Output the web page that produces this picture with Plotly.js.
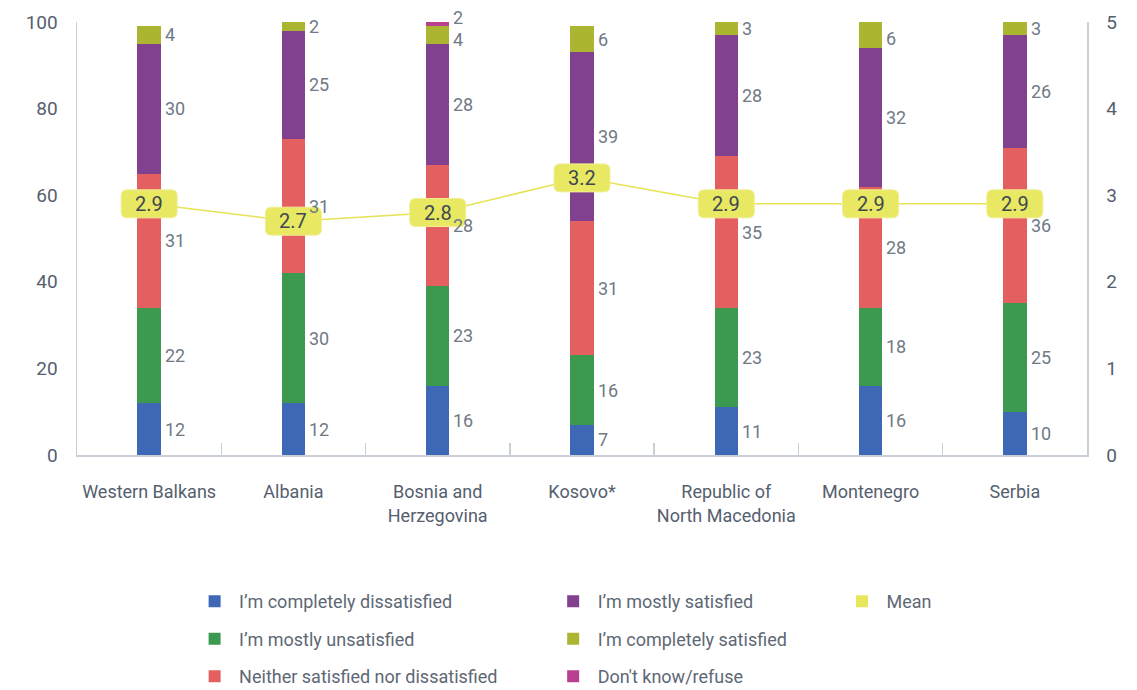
<!DOCTYPE html>
<html>
<head>
<meta charset="utf-8">
<script src="https://cdn.plot.ly/plotly-3.0.1.min.js"></script>
<style>
  html, body { margin: 0; padding: 0; background: #fff; }
  #chart { width: 1137px; height: 690px; }
</style>
</head>
<body>
<div id="chart"></div>
<script>
const categories = ['Western Balkans', 'Albania', 'Bosnia and<br>Herzegovina', 'Kosovo*', 'Republic of<br>North Macedonia', 'Montenegro', 'Serbia'];
const completelyDissatisfied = [12, 12, 16, 7, 11, 16, 10];
const mostlyUnsatisfied = [22, 30, 23, 16, 23, 18, 25];
const neitherNor = [31, 31, 28, 31, 35, 28, 36];
const mostlySatisfied = [30, 25, 28, 39, 28, 32, 26];
const completelySatisfied = [4, 2, 4, 6, 3, 6, 3];
const dontKnow = [null, null, 2, null, null, 1, null];
const meanValues = [2.9, 2.7, 2.8, 3.2, 2.9, 2.9, 2.9];
const meanLabels = ['2.9', '2.7', '2.8', '3.2', '2.9', '2.9', '2.9'];

const seriesNames = ['I\u2019m completely dissatisfied', 'I\u2019m mostly unsatisfied', 'Neither satisfied nor dissatisfied', 'I\u2019m mostly satisfied', 'I\u2019m completely satisfied', "Don't know/refuse"];
const seriesData = [completelyDissatisfied, mostlyUnsatisfied, neitherNor, mostlySatisfied, completelySatisfied, dontKnow];
const seriesColors = ['#3e68b5', '#3b9a50', '#e46060', '#82418e', '#abb531', '#b8408f'];
const seriesLegend = ['legend', 'legend', 'legend', 'legend2', 'legend2', 'legend2'];

const FONT = 'Roboto, "Open Sans", sans-serif';
const xIdx = categories.map((_, i) => i);

const traces = seriesData.map((vals, s) => ({
  type: 'bar',
  name: seriesNames[s],
  x: categories,
  y: vals,
  width: 0.162,
  marker: { color: seriesColors[s], line: { width: 0 } },
  legend: seriesLegend[s],
  legendgroup: 'g' + s,
  hoverinfo: 'skip'
}));

// Mean line on secondary axis
traces.push({
  type: 'scatter',
  mode: 'lines',
  x: categories,
  y: meanValues,
  yaxis: 'y2',
  line: { color: '#e6e455', width: 1.5 },
  showlegend: false,
  hoverinfo: 'skip'
});
// Mean legend entry
traces.push({
  type: 'bar',
  name: 'Mean',
  x: [categories[0]],
  y: [null],
  marker: { color: '#e8e65c' },
  legend: 'legend3',
  legendgroup: 'gm',
  hoverinfo: 'skip'
});

// Segment value labels
const annotations = [];
const PX_PER_UNIT = 433 / 100;
xIdx.forEach(i => {
  let cum = 0;
  const labels = [];
  seriesData.forEach(vals => {
    const v = vals[i];
    if (v == null) return;
    labels.push({ mid: cum + v / 2, v: v, shift: 0 });
    cum += v;
  });
  for (let k = 1; k < labels.length; k++) {
    const gap = (labels[k].mid - labels[k - 1].mid) * PX_PER_UNIT + labels[k].shift - labels[k - 1].shift;
    if (gap < 22) {
      const d = (22 - gap) / 2;
      labels[k - 1].shift -= d;
      labels[k].shift += d;
    }
  }
  labels.forEach(l => {
    annotations.push({
      x: i + 0.095, y: l.mid, xref: 'x', yref: 'y',
      text: String(l.v), showarrow: false, xanchor: 'left', yanchor: 'middle',
      yshift: l.shift,
      font: { family: FONT, size: 18, color: '#6f7a86' }
    });
  });
});

// Mean boxes and labels
const shapes = [];
const W = 28, H = 14, R = 6;
const boxPath = `M${-W + R},${-H} L${W - R},${-H} Q${W},${-H} ${W},${-H + R} L${W},${H - R} Q${W},${H} ${W - R},${H} L${-W + R},${H} Q${-W},${H} ${-W},${H - R} L${-W},${-H + R} Q${-W},${-H} ${-W + R},${-H} Z`;
xIdx.forEach(i => {
  shapes.push({
    type: 'path', xref: 'x', yref: 'y2',
    xsizemode: 'pixel', ysizemode: 'pixel',
    xanchor: i, yanchor: meanValues[i],
    path: boxPath,
    fillcolor: '#e9e862',
    line: { color: '#f1ef95', width: 1 },
    layer: 'above'
  });
  annotations.push({
    x: i, y: meanValues[i], xref: 'x', yref: 'y2',
    text: meanLabels[i], showarrow: false, xanchor: 'center', yanchor: 'middle',
    font: { family: FONT, size: 20, color: '#3e4752' }
  });
});

const legendCommon = {
  orientation: 'v',
  xanchor: 'left', yanchor: 'top',
  yref: 'paper', xref: 'paper',
  font: { family: FONT, size: 18, color: '#5d6874' },
  traceorder: 'grouped',
  tracegroupgap: 11,
  itemwidth: 39,
  bgcolor: 'rgba(0,0,0,0)',
  itemclick: false, itemdoubleclick: false
};

const layout = {
  width: 1137, height: 690,
  margin: { l: 77, r: 50, t: 22, b: 235, autoexpand: false },
  paper_bgcolor: '#ffffff', plot_bgcolor: '#ffffff',
  barmode: 'stack',
  font: { family: FONT, color: '#55606e' },
  showlegend: true,
  xaxis: {
    type: 'category',
    range: [-0.5, 6.5],
    showgrid: false, zeroline: false,
    showline: true, linecolor: '#c9cfd6', linewidth: 1.5,
    ticks: 'inside', tickson: 'boundaries', ticklen: 12, tickcolor: '#c9cfd6', tickwidth: 1.5,
    tickangle: 0,
    tickfont: { family: FONT, size: 18, color: '#55606e' },
    ticklabelstandoff: 20,
    fixedrange: true
  },
  yaxis: {
    range: [0, 100],
    tickvals: [0, 20, 40, 60, 80, 100],
    showgrid: false, zeroline: false,
    showline: true, linecolor: '#c9cfd6', linewidth: 1.5,
    ticks: '',
    tickfont: { family: FONT, size: 19, color: '#55606e' },
    ticklabelstandoff: 14,
    fixedrange: true
  },
  yaxis2: {
    range: [0, 5],
    overlaying: 'y', side: 'right',
    tickvals: [0, 1, 2, 3, 4, 5],
    showgrid: false, zeroline: false,
    showline: true, linecolor: '#c9cfd6', linewidth: 1.5,
    ticks: '',
    tickfont: { family: FONT, size: 19, color: '#55606e' },
    ticklabelstandoff: 14,
    fixedrange: true
  },
  legend: Object.assign({}, legendCommon, { x: 0.112, y: -0.296 }),
  legend2: Object.assign({}, legendCommon, { x: 0.467, y: -0.296 }),
  legend3: Object.assign({}, legendCommon, { x: 0.753, y: -0.296 }),
  shapes: shapes,
  annotations: annotations
};

Plotly.newPlot('chart', traces, layout, { staticPlot: true, displayModeBar: false });
</script>
</body>
</html>
